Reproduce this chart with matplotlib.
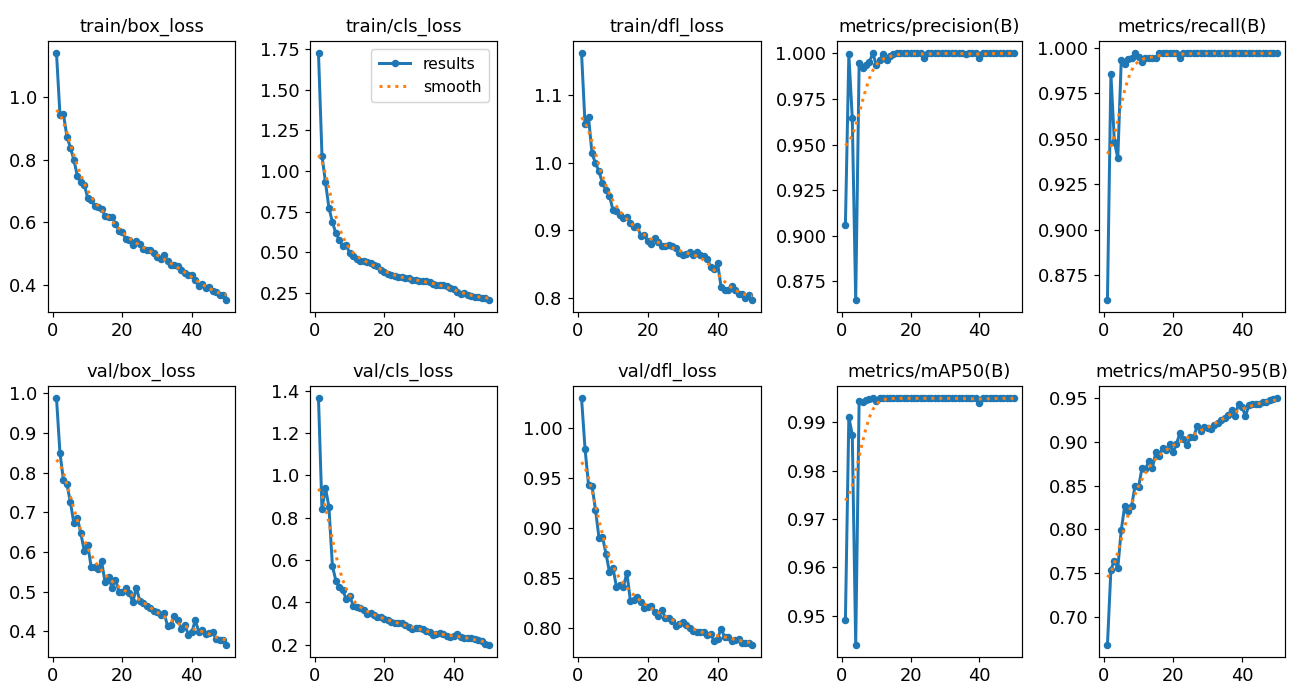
import numpy as np
import matplotlib
matplotlib.use("Agg")
import matplotlib.pyplot as plt

epochs = np.arange(1, 51)

titles = ["train/box_loss", "train/cls_loss", "train/dfl_loss",
          "metrics/precision(B)", "metrics/recall(B)",
          "val/box_loss", "val/cls_loss", "val/dfl_loss",
          "metrics/mAP50(B)", "metrics/mAP50-95(B)"]

train_box = [1.140, 0.944, 0.946, 0.874, 0.839, 0.800, 0.749, 0.728, 0.720, 0.678,
             0.672, 0.651, 0.649, 0.643, 0.621, 0.617, 0.616, 0.596, 0.573, 0.568,
             0.547, 0.543, 0.529, 0.539, 0.532, 0.515, 0.513, 0.511, 0.502, 0.489,
             0.483, 0.497, 0.476, 0.465, 0.463, 0.460, 0.447, 0.438, 0.433, 0.433,
             0.415, 0.398, 0.403, 0.390, 0.394, 0.382, 0.377, 0.369, 0.367, 0.353]

train_cls = [1.723, 1.095, 0.932, 0.774, 0.687, 0.617, 0.577, 0.536, 0.544, 0.495,
             0.479, 0.458, 0.448, 0.448, 0.442, 0.434, 0.423, 0.417, 0.393, 0.377,
             0.366, 0.360, 0.352, 0.350, 0.346, 0.340, 0.340, 0.332, 0.330, 0.326,
             0.326, 0.321, 0.315, 0.305, 0.299, 0.299, 0.299, 0.291, 0.283, 0.274,
             0.258, 0.244, 0.250, 0.240, 0.234, 0.228, 0.223, 0.219, 0.217, 0.209]

train_dfl = [1.162, 1.057, 1.067, 1.014, 0.999, 0.987, 0.970, 0.959, 0.951, 0.930,
             0.929, 0.922, 0.918, 0.920, 0.911, 0.905, 0.906, 0.891, 0.893, 0.884,
             0.879, 0.888, 0.883, 0.877, 0.877, 0.878, 0.877, 0.873, 0.866, 0.863,
             0.864, 0.868, 0.863, 0.868, 0.863, 0.861, 0.858, 0.846, 0.843, 0.851,
             0.816, 0.812, 0.812, 0.818, 0.811, 0.806, 0.805, 0.800, 0.804, 0.797]

precision = [0.906, 0.9996, 0.9644, 0.865, 0.9945, 0.9918, 0.9936, 0.9954, 1.0, 0.9936,
             0.9964, 0.9996, 0.9964, 0.9985, 0.9995, 1.0, 1.0, 1.0, 1.0, 1.0,
             1.0, 1.0, 1.0, 0.9973, 1.0, 1.0, 1.0, 1.0, 1.0, 1.0,
             1.0, 1.0, 1.0, 1.0, 1.0, 0.9995, 1.0, 1.0, 1.0, 0.9973,
             1.0, 1.0, 1.0, 1.0, 1.0, 1.0, 1.0, 1.0, 1.0, 1.0]

recall = [0.8616, 0.9856, 0.9484, 0.9393, 0.9932, 0.991, 0.9936, 0.9941, 0.9969, 0.995,
          0.9923, 0.9941, 0.9941, 0.9941, 0.9941, 0.9969, 0.9969, 0.9969, 0.9969, 0.9969,
          0.9969, 0.9941, 0.9969, 0.9969, 0.9969, 0.9969, 0.9969, 0.9969, 0.9969, 0.9969,
          0.9969, 0.9969, 0.9969, 0.9969, 0.9969, 0.9969, 0.9969, 0.9969, 0.9969, 0.9969,
          0.9969, 0.9969, 0.9969, 0.9969, 0.9969, 0.9969, 0.9969, 0.9969, 0.9969, 0.9969]

val_box = [0.987, 0.849, 0.781, 0.770, 0.726, 0.672, 0.686, 0.647, 0.603, 0.617,
           0.562, 0.561, 0.556, 0.576, 0.523, 0.536, 0.510, 0.530, 0.500, 0.500,
           0.508, 0.496, 0.473, 0.510, 0.477, 0.471, 0.464, 0.458, 0.452, 0.448,
           0.441, 0.446, 0.414, 0.416, 0.439, 0.429, 0.406, 0.416, 0.391, 0.397,
           0.428, 0.399, 0.402, 0.393, 0.396, 0.397, 0.381, 0.377, 0.377, 0.366]

val_cls = [1.364, 0.839, 0.941, 0.852, 0.573, 0.503, 0.471, 0.456, 0.416, 0.429,
           0.385, 0.377, 0.373, 0.366, 0.346, 0.351, 0.338, 0.333, 0.330, 0.322,
           0.315, 0.307, 0.304, 0.302, 0.302, 0.294, 0.283, 0.276, 0.279, 0.279,
           0.272, 0.263, 0.260, 0.247, 0.252, 0.255, 0.252, 0.239, 0.236, 0.239,
           0.252, 0.236, 0.232, 0.233, 0.232, 0.225, 0.221, 0.216, 0.205, 0.200]

val_dfl = [1.0295, 0.979, 0.943, 0.942, 0.918, 0.890, 0.891, 0.874, 0.856, 0.860,
           0.841, 0.843, 0.841, 0.855, 0.827, 0.828, 0.831, 0.826, 0.820, 0.821,
           0.822, 0.816, 0.812, 0.818, 0.810, 0.810, 0.807, 0.802, 0.804, 0.806,
           0.803, 0.800, 0.797, 0.796, 0.796, 0.796, 0.793, 0.794, 0.787, 0.789,
           0.799, 0.791, 0.791, 0.787, 0.788, 0.789, 0.785, 0.785, 0.785, 0.783]

map50 = [0.9491, 0.9911, 0.9875, 0.9440, 0.9945, 0.9943, 0.9947, 0.9949, 0.995, 0.9945,
         0.995, 0.995, 0.995, 0.995, 0.995, 0.995, 0.995, 0.995, 0.995, 0.995,
         0.995, 0.995, 0.995, 0.995, 0.995, 0.995, 0.995, 0.995, 0.995, 0.995,
         0.995, 0.995, 0.995, 0.995, 0.995, 0.995, 0.995, 0.995, 0.995, 0.994,
         0.995, 0.995, 0.995, 0.995, 0.995, 0.995, 0.995, 0.995, 0.995, 0.995]

map50_95 = [0.668, 0.754, 0.764, 0.756, 0.799, 0.827, 0.821, 0.827, 0.850, 0.848,
            0.870, 0.869, 0.878, 0.870, 0.888, 0.884, 0.893, 0.891, 0.898, 0.888,
            0.898, 0.910, 0.903, 0.896, 0.906, 0.906, 0.918, 0.913, 0.917, 0.916,
            0.915, 0.920, 0.922, 0.925, 0.928, 0.931, 0.937, 0.930, 0.944, 0.940,
            0.930, 0.942, 0.944, 0.944, 0.944, 0.946, 0.946, 0.948, 0.949, 0.950]

series = [train_box, train_cls, train_dfl, precision, recall,
          val_box, val_cls, val_dfl, map50, map50_95]


def gauss_smooth(y, sigma=3.0):
    # same as scipy gaussian_filter1d (mode reflect, truncate 4)
    r = int(4 * sigma + 0.5)
    k = np.exp(-0.5 * (np.arange(-r, r + 1) / sigma) ** 2)
    k = k / k.sum()
    yp = np.pad(np.asarray(y, float), r, mode="symmetric")
    return np.convolve(yp, k, mode="valid")


W, H = 1291, 684
fig, ax = plt.subplots(2, 5, figsize=(W / 107.6, H / 107.6), dpi=107.6)
ax = ax.ravel()

# axes boxes in pixels (left, right) per column, (top, bottom) per row
cols = [(48, 235), (310, 497), (573, 761), (837, 1022), (1099, 1285)]
rows = [(41, 312), (386, 657)]

for i, (t, y) in enumerate(zip(titles, series)):
    l, r = cols[i % 5]
    top, bot = rows[i // 5]
    ax[i].set_position([l / W, 1 - bot / H, (r - l) / W, (bot - top) / H])
    ax[i].plot(epochs, y, marker=".", label="results", linewidth=2, markersize=8)
    ax[i].plot(epochs, gauss_smooth(y), ":", label="smooth", linewidth=2)
    ax[i].set_title(t, fontsize=12.1)
    ax[i].tick_params(labelsize=12)
ax[1].legend(fontsize=10.5, borderpad=0.5)

plt.savefig("out.png")
